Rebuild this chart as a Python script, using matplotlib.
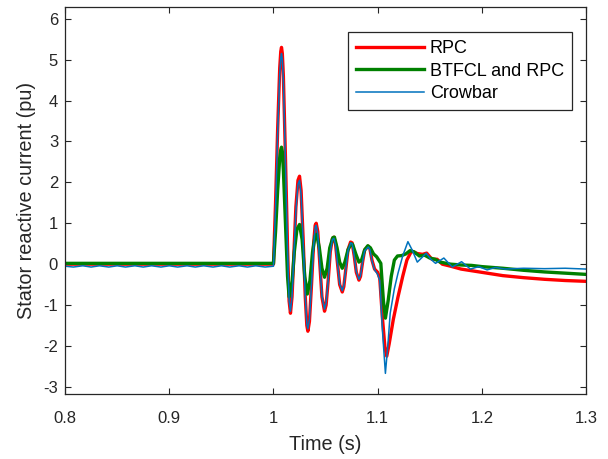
import matplotlib
matplotlib.use("Agg")
import matplotlib.pyplot as plt

# --- data (time in s, current in pu) --------------------------------------

rpc_t = [0.800, 1.000, 1.002, 1.004, 1.006, 1.0070, 1.0077, 1.0085, 1.0095, 1.0115,
         1.0135, 1.0150, 1.0163, 1.0178, 1.0195, 1.0215, 1.0235, 1.0250, 1.0265, 1.0285,
         1.0305, 1.0320, 1.0330, 1.0345, 1.0365, 1.0385, 1.0400, 1.0410, 1.0425, 1.0445,
         1.0465, 1.0490, 1.0505, 1.0525, 1.0545, 1.0565, 1.0580, 1.0595, 1.0615, 1.0635,
         1.0660, 1.0675, 1.0695, 1.0715, 1.0740, 1.0755, 1.0775, 1.0795, 1.0820, 1.0835,
         1.0855, 1.0875, 1.0910, 1.0925, 1.0945, 1.0970, 1.1000, 1.1020, 1.1045, 1.1070,
         1.1087, 1.1110, 1.1150, 1.1195, 1.1240, 1.1280, 1.1325, 1.1380, 1.1430, 1.1470,
         1.1520, 1.1570, 1.1620, 1.1700, 1.1800, 1.1900, 1.2000, 1.2200, 1.2400, 1.2600,
         1.2800, 1.3000]
rpc_i = [0.00, 0.00, 1.50, 3.30, 4.80, 5.20, 5.30, 5.15, 4.60, 2.60,
         0.40, -0.90, -1.20, -0.80, 0.20, 1.40, 2.05, 2.15, 1.80, 0.60,
         -0.80, -1.50, -1.64, -1.40, -0.50, 0.50, 0.95, 1.00, 0.80, 0.00,
         -0.80, -1.15, -1.00, -0.40, 0.30, 0.62, 0.66, 0.50, 0.00, -0.50,
         -0.68, -0.55, -0.10, 0.35, 0.54, 0.52, 0.20, -0.20, -0.39, -0.30,
         0.05, 0.35, 0.44, 0.38, 0.10, -0.12, -0.20, -0.35, -1.30, -2.05,
         -2.25, -1.95, -1.35, -0.80, -0.30, 0.10, 0.32, 0.26, 0.24, 0.27,
         0.12, 0.12, 0.00, -0.05, -0.12, -0.16, -0.20, -0.28, -0.33, -0.37,
         -0.40, -0.42]

btfcl_t = [0.800, 1.000, 1.002, 1.004, 1.006, 1.0070, 1.0077, 1.0085, 1.0095, 1.0115,
           1.0135, 1.0150, 1.0180, 1.0200, 1.0225, 1.0250, 1.0275, 1.0300, 1.0325, 1.0350,
           1.0375, 1.0400, 1.0415, 1.0440, 1.0465, 1.0490, 1.0515, 1.0540, 1.0570, 1.0585,
           1.0610, 1.0635, 1.0660, 1.0685, 1.0715, 1.0745, 1.0760, 1.0790, 1.0820, 1.0845,
           1.0875, 1.0905, 1.0930, 1.0960, 1.0990, 1.1030, 1.1055, 1.1074, 1.1100, 1.1130,
           1.1160, 1.1190, 1.1230, 1.1270, 1.1310, 1.1350, 1.1400, 1.1450, 1.1500, 1.1550,
           1.1600, 1.1700, 1.1800, 1.1900, 1.2000, 1.2200, 1.2400, 1.2600, 1.2800, 1.3000]
btfcl_i = [0.02, 0.02, 0.80, 1.80, 2.60, 2.80, 2.86, 2.75, 2.30, 1.00,
           -0.30, -0.80, -0.40, 0.30, 0.85, 0.97, 0.60, -0.30, -0.73, -0.40,
           0.30, 0.70, 0.73, 0.40, -0.10, -0.32, -0.10, 0.40, 0.65, 0.66,
           0.40, 0.05, -0.10, 0.05, 0.35, 0.50, 0.48, 0.25, 0.05, 0.10,
           0.35, 0.45, 0.40, 0.25, 0.18, 0.02, -0.90, -1.32, -0.90, -0.30,
           0.10, 0.20, 0.21, 0.25, 0.33, 0.30, 0.20, 0.22, 0.15, 0.12,
           0.05, 0.00, -0.02, -0.03, -0.06, -0.10, -0.15, -0.19, -0.22, -0.25]

crowbar_t = [0.800, 0.808, 0.817, 0.825, 0.833, 0.842, 0.850, 0.858, 0.867, 0.875,
             0.883, 0.892, 0.900, 0.908, 0.917, 0.925, 0.933, 0.942, 0.950, 0.958,
             0.967, 0.975, 0.983, 0.992, 1.000, 1.002, 1.004, 1.006, 1.0070, 1.0077,
             1.0085, 1.0095, 1.0115, 1.0135, 1.0150, 1.0163, 1.0178, 1.0195, 1.0215, 1.0235,
             1.0250, 1.0265, 1.0285, 1.0305, 1.0320, 1.0330, 1.0345, 1.0365, 1.0385, 1.0400,
             1.0410, 1.0425, 1.0445, 1.0465, 1.0490, 1.0505, 1.0525, 1.0545, 1.0565, 1.0580,
             1.0595, 1.0615, 1.0635, 1.0660, 1.0675, 1.0695, 1.0715, 1.0740, 1.0755, 1.0775,
             1.0795, 1.0820, 1.0835, 1.0855, 1.0875, 1.0910, 1.0925, 1.0945, 1.0970, 1.1000,
             1.1020, 1.1045, 1.1074, 1.1100, 1.1120, 1.1160, 1.1195, 1.1240, 1.1290, 1.1330,
             1.1380, 1.1420, 1.1465, 1.1510, 1.1555, 1.1635, 1.1715, 1.1805, 1.1890, 1.1970,
             1.2050, 1.2130, 1.2220, 1.2400, 1.2600, 1.2800, 1.3000]
crowbar_i = [-0.05, -0.07, -0.04, -0.07, -0.04, -0.07, -0.04, -0.07, -0.04, -0.07,
             -0.04, -0.07, -0.04, -0.07, -0.04, -0.07, -0.04, -0.07, -0.04, -0.07,
             -0.04, -0.07, -0.04, -0.07, -0.05, 1.40, 3.20, 4.65, 5.05, 5.15,
             5.00, 4.50, 2.50, 0.30, -0.90, -1.15, -0.80, 0.15, 1.30, 1.95,
             2.05, 1.70, 0.55, -0.80, -1.45, -1.58, -1.35, -0.50, 0.45, 0.90,
             0.95, 0.75, 0.00, -0.78, -1.10, -0.95, -0.40, 0.28, 0.60, 0.63,
             0.48, 0.00, -0.48, -0.65, -0.52, -0.10, 0.33, 0.52, 0.50, 0.20,
             -0.18, -0.37, -0.28, 0.05, 0.33, 0.42, 0.36, 0.08, -0.14, -0.25,
             -0.40, -1.60, -2.67, -1.90, -1.20, -0.60, -0.22, 0.20, 0.55, 0.35,
             0.05, 0.15, 0.27, 0.12, 0.02, 0.15, -0.07, 0.06, -0.12, -0.06,
             -0.14, -0.08, -0.12, -0.10, -0.11, -0.10, -0.12]

X_TICKS = [0.8, 0.9, 1.0, 1.1, 1.2, 1.3]
X_TICK_LABELS = ["0.8", "0.9", "1", "1.1", "1.2", "1.3"]
Y_TICKS = [-3, -2, -1, 0, 1, 2, 3, 4, 5, 6]

COL_RPC = "#ff0000"
COL_BTFCL = "#008000"
COL_CROWBAR = "#0072bd"
AX_COL = "#262626"

plt.rcParams.update({
    "font.family": ["Liberation Sans", "DejaVu Sans"],
    "axes.unicode_minus": False,
    "lines.solid_joinstyle": "round",
})

fig = plt.figure(figsize=(6.08, 4.59), dpi=100)
ax = fig.add_axes([0.107, 0.142, 0.857, 0.843])

ax.plot(rpc_t, rpc_i, color=COL_RPC, lw=2.4, label="RPC")
ax.plot(btfcl_t, btfcl_i, color=COL_BTFCL, lw=2.4, label="BTFCL and RPC")
ax.plot(crowbar_t, crowbar_i, color=COL_CROWBAR, lw=1.1, label="Crowbar")

ax.set_xlim(0.8, 1.3)
ax.set_ylim(-3.17, 6.29)
ax.set_xticks(X_TICKS)
ax.set_xticklabels(X_TICK_LABELS)
ax.set_yticks(Y_TICKS)
ax.tick_params(direction="in", top=True, right=True, length=4, width=0.8,
               color=AX_COL, labelcolor=AX_COL, labelsize=12)
ax.tick_params(axis="x", pad=12.5)
ax.tick_params(axis="y", pad=5)
for s in ax.spines.values():
    s.set_color(AX_COL)
    s.set_linewidth(0.9)

ax.set_xlabel("Time (s)", fontsize=14.3, color=AX_COL, labelpad=6)
ax.set_ylabel("Stator reactive current (pu)", fontsize=14.3, color=AX_COL, labelpad=5)

leg = ax.legend(loc="upper right", bbox_to_anchor=(0.973, 0.935), borderaxespad=0,
                fancybox=False, framealpha=1, edgecolor=AX_COL, fontsize=13,
                handlelength=3.8, labelspacing=0.3, borderpad=0.45, handletextpad=0.3)
leg.get_frame().set_linewidth(0.9)

fig.savefig("out.png", dpi=100)
